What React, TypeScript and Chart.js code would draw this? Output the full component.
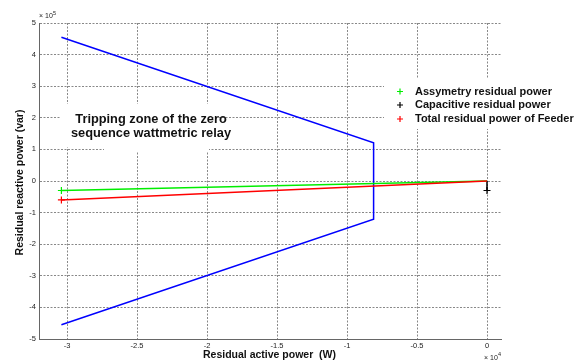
import React, { useEffect, useRef } from "react";
import { Chart, registerables } from "chart.js";

Chart.register(...registerables);

// Values in W (x) and var (y)
const tripX = [-30400, -8100, -8100, -30400];
const tripY = [455000, 121000, -121000, -455000];
const asymX = [-30400, 0];
const asymY = [-30000, 0];
const capX = [0, 0];
const capY = [0, -30000];
const totalX = [-30400, 0];
const totalY = [-60000, 0];

const xTicks = [-30000, -25000, -20000, -15000, -10000, -5000, 0];
const yTicks = [-500000, -400000, -300000, -200000, -100000, 0, 100000, 200000, 300000, 400000, 500000];

const legendLabels = ["Assymetry residual power", "Capacitive residual power", "Total residual power of Feeder"];
const legendColors = ["#00ee00", "#000000", "#ff0000"];
const zoneText = ["Tripping zone of the zero", "sequence wattmetric relay"];

const pts = (xs: number[], ys: number[]) => xs.map((x, i) => ({ x, y: ys[i] }));

const FONT = "'Liberation Sans', Arial, Helvetica, sans-serif";

const textPlugin = {
  id: "texts",
  beforeDatasetsDraw(chart: any) {
    const ctx = chart.ctx as CanvasRenderingContext2D;
    ctx.save();
    // annotation box
    ctx.fillStyle = "#fff";
    ctx.fillRect(60, 104, 152, 43);
    ctx.fillRect(104, 146, 105, 5);
    ctx.fillRect(384, 78, 203, 51);
    ctx.fillStyle = "#111";
    ctx.font = `bold 12.8px ${FONT}`;
    ctx.textAlign = "center";
    ctx.textBaseline = "middle";
    ctx.fillText(zoneText[0], 151, 119.5);
    ctx.fillText(zoneText[1], 151, 133.5);
    // legend
    const rows = [91.5, 105, 119];
    ctx.font = `bold 11px ${FONT}`;
    ctx.textAlign = "left";
    legendLabels.forEach((l, i) => {
      const y = rows[i];
      ctx.strokeStyle = legendColors[i];
      ctx.lineWidth = 1.2;
      ctx.beginPath();
      ctx.moveTo(397, y);
      ctx.lineTo(403, y);
      ctx.moveTo(400, y - 3);
      ctx.lineTo(400, y + 3);
      ctx.stroke();
      ctx.fillStyle = "#111";
      ctx.fillText(l, 415, y);
    });
    ctx.restore();
  },
  afterDraw(chart: any) {
    const ctx = chart.ctx as CanvasRenderingContext2D;
    ctx.save();
    ctx.fillStyle = "#111";
    ctx.textBaseline = "middle";
    ctx.textAlign = "center";
    ctx.font = `bold 10.5px ${FONT}`;
    ctx.fillText("Residual active power  (W)", 269.5, 355.5);
    ctx.save();
    ctx.translate(20.5, 182.5);
    ctx.rotate(-Math.PI / 2);
    ctx.fillText("Residual reactive power (var)", 0, 0);
    ctx.restore();
    // exponents
    ctx.font = `7px ${FONT}`;
    ctx.textAlign = "left";
    ctx.fillStyle = "#222";
    ctx.fillText("\u00d7 10", 39, 16.5);
    ctx.fillText("\u00d7 10", 484, 358);
    ctx.font = `5.5px ${FONT}`;
    ctx.fillText("5", 53, 13);
    ctx.fillText("4", 498, 354.5);
    ctx.restore();
  },
};

export default function App() {
  const ref = useRef<HTMLCanvasElement>(null);
  useEffect(() => {
    document.body.style.margin = "0";
    const ds = (label: string, xs: number[], ys: number[], color: string, radius: number[], width: number) => ({
      label,
      data: pts(xs, ys),
      showLine: true,
      borderColor: color,
      backgroundColor: color,
      borderWidth: width,
      pointStyle: "cross",
      pointRadius: radius,
      pointBorderWidth: 1.2,
      pointBorderColor: color,
      tension: 0,
    });
    const chart = new Chart(ref.current!, {
      type: "scatter",
      data: {
        datasets: [
          ds("Total residual power of Feeder", totalX, totalY, "#ff0000", [3.5, 0], 1.5),
          ds("Capacitive residual power", capX, capY, "#000000", [0, 3.5], 1.5),
          ds("Assymetry residual power", asymX, asymY, "#00ee00", [3.5, 0], 1.5),
          ds("Tripping zone", tripX, tripY, "#0000ff", [0, 0, 0, 0], 1.5),
        ] as any,
      },
      options: {
        responsive: false,
        animation: false,
        layout: { padding: { left: 0, top: 23, right: 86, bottom: 0 } },
        plugins: { legend: { display: false }, tooltip: { enabled: false } },
        scales: {
          x: {
            type: "linear",
            min: -32000,
            max: 1000,
            afterFit(scale: any) {
              scale.height = 23;
            },
            afterBuildTicks(scale: any) {
              scale.ticks = xTicks.map((v) => ({ value: v }));
            },
            ticks: {
              callback: (v: any) => String(Number(v) / 10000),
              font: { family: FONT, size: 7.5 },
              color: "#222",
              padding: 2,
              maxRotation: 0,
              autoSkip: false,
            },
            grid: { color: "#888", lineWidth: 1, drawTicks: false },
            border: { display: true, color: "#666", width: 1, dash: [2, 1.5] },
          },
          y: {
            type: "linear",
            min: -500000,
            max: 500000,
            afterFit(scale: any) {
              scale.width = 39;
            },
            afterBuildTicks(scale: any) {
              scale.ticks = yTicks.map((v) => ({ value: v }));
            },
            ticks: {
              callback: (v: any) => String(Number(v) / 100000),
              font: { family: FONT, size: 7.5 },
              color: "#222",
              padding: 3,
              autoSkip: false,
            },
            grid: { color: "#888", lineWidth: 1, drawTicks: false },
            border: { display: true, color: "#666", width: 1, dash: [2, 1.5] },
          },
        },
      },
      plugins: [textPlugin],
    });
    return () => chart.destroy();
  }, []);
  return (
    <div style={{ position: "absolute", left: 0, top: 0, width: 587, height: 362, background: "#fff" }}>
      <canvas ref={ref} width={587} height={362} />
    </div>
  );
}
